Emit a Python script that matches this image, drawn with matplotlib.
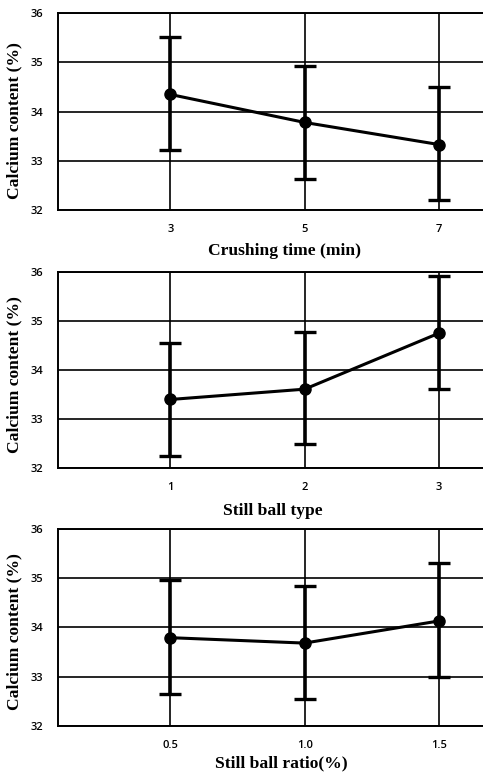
import matplotlib
matplotlib.use("Agg")
import matplotlib.pyplot as plt
from matplotlib.ticker import FixedLocator

# ---- data ----
crush_time = [3, 5, 7]
crush_mean = [34.35, 33.78, 33.33]
crush_upper = [35.52, 34.93, 34.51]
crush_lower = [33.22, 32.64, 32.20]

ball_type = [1, 2, 3]
type_mean = [33.40, 33.61, 34.75]
type_upper = [34.54, 34.78, 35.91]
type_lower = [32.26, 32.49, 33.61]

ball_ratio = [0.5, 1.0, 1.5]
ratio_labels = ["0.5", "1.0", "1.5"]
ratio_mean = [33.79, 33.68, 34.13]
ratio_upper = [34.96, 34.85, 35.30]
ratio_lower = [32.65, 32.54, 32.99]

y_ticks = [32, 33, 34, 35, 36]
x_titles = ["Crushing time (min)", "Still ball type", "Still ball ratio(%)"]
y_title = "Calcium content (%)"

panels = [
    (crush_time, [str(v) for v in crush_time], crush_mean, crush_upper, crush_lower),
    (ball_type, [str(v) for v in ball_type], type_mean, type_upper, type_lower),
    (ball_ratio, ratio_labels, ratio_mean, ratio_upper, ratio_lower),
]

W, H = 483, 775
fig = plt.figure(figsize=(W / 100, H / 100), dpi=100)

# axes pixel boxes (left, top, bottom); right edge = figure edge
boxes = [(58.3, 13.3, 210.0), (58.3, 271.7, 468.3), (58.3, 529.0, 725.7)]
xlims = [(1.335, 7.65), (0.167, 3.327), (0.0835, 1.664)]
xlabel_pos = [(0.532, -0.168), (0.504, -0.178), (0.525, -0.152)]
ylabel_y = [0.455, 0.475, 0.478]

tick_font = dict(family="Open Sans", weight="semibold", size=8)
label_font = dict(family="Liberation Serif", weight="bold", size=12.6)

for (xs, xl, m, up, lo), (l, t, b), xlim, (lx, ly), yy, xt in zip(
        panels, boxes, xlims, xlabel_pos, ylabel_y, x_titles):
    ax = fig.add_axes([l / W, 1 - b / H, 1 - l / W, (b - t) / H])
    yerr = [[mi - li for mi, li in zip(m, lo)], [ui - mi for mi, ui in zip(m, up)]]
    ax.errorbar(xs, m, yerr=yerr, color="black", lw=2.2, elinewidth=2.6,
                capsize=8, capthick=2.4, marker="o", markersize=8, zorder=3)
    ax.set_xlim(*xlim)
    ax.set_ylim(32, 36)
    ax.xaxis.set_major_locator(FixedLocator(xs))
    ax.set_xticklabels(xl, fontdict=tick_font)
    ax.yaxis.set_major_locator(FixedLocator(y_ticks))
    ax.set_yticklabels([str(v) for v in y_ticks], fontdict=tick_font)
    ax.tick_params(axis="x", length=0, pad=10)
    ax.tick_params(axis="y", length=0, pad=11)
    ax.grid(True, color="black", lw=1.2)
    ax.set_axisbelow(True)
    for s in ["left", "bottom", "top"]:
        ax.spines[s].set_linewidth(1.4)
    ax.spines["right"].set_visible(False)
    ax.set_xlabel(xt, fontdict=label_font)
    ax.xaxis.set_label_coords(lx, ly)
    ax.set_ylabel(y_title, fontdict=label_font)
    ax.yaxis.set_label_coords(-0.085, yy)

fig.savefig("out.png", dpi=100)
